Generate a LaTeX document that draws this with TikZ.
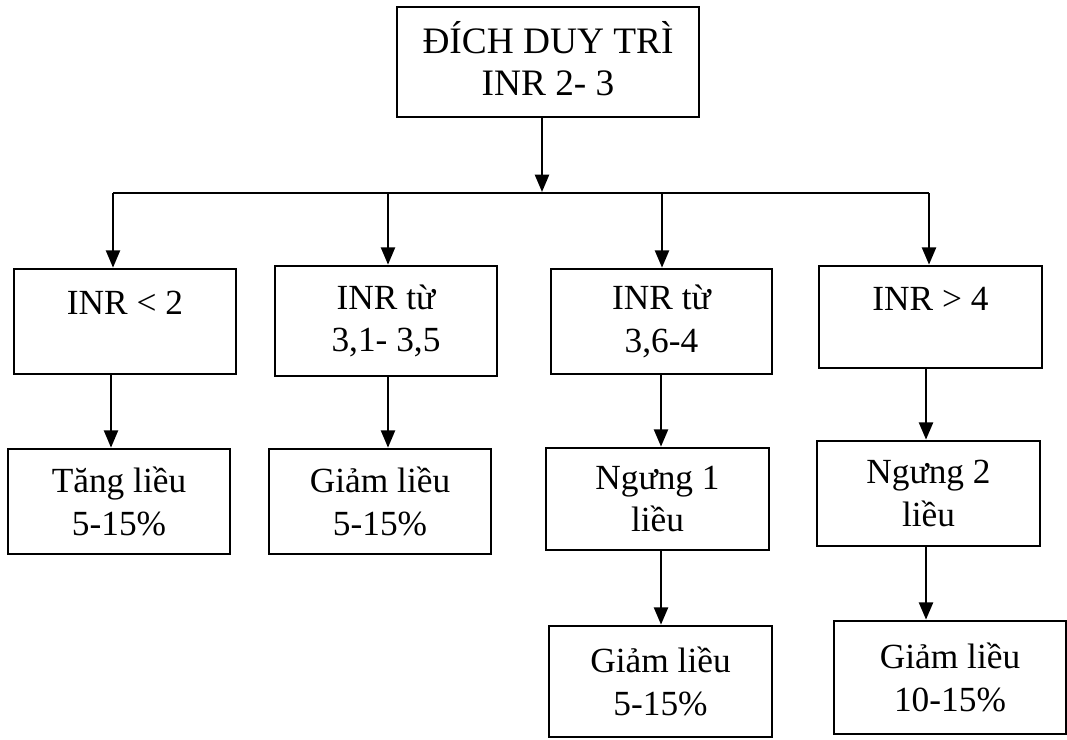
\documentclass[tikz,border=0pt]{standalone}
\usepackage{fontspec}
\setmainfont{Liberation Serif}
\usetikzlibrary{arrows.meta}
\begin{document}
\begin{tikzpicture}[x=0.75pt,y=-0.75pt,
  box/.style={draw, line width=2pt, align=center, inner sep=0pt,
    font=\fontsize{26.5}{32}\selectfont},
  arr/.style={line width=1.8pt, -{Triangle[length=13pt,width=10.5pt]}},
  hline/.style={line width=1pt}]
\useasboundingbox (0,0) rectangle (1067,739);
% top
\node[box, font=\fontsize{28}{31.5}\selectfont, text height=52pt, text depth=2.5pt, minimum width=226.5pt, minimum height=82.5pt] (top) at (548,62) {ĐÍCH DUY TRÌ\\INR 2- 3};
% row 1
\node[box, text height=10pt, text depth=20pt, minimum width=166.5pt, minimum height=78.75pt] (b1) at (125,321.5) {INR < 2};
\node[box, minimum width=166.5pt, minimum height=82.5pt] (b2) at (386,321) {INR từ\\3,1- 3,5};
\node[box, minimum width=165.75pt, minimum height=78.75pt] (b3) at (661.5,321.5) {INR từ\\3,6-4};
\node[box, text height=10pt, text depth=20pt, minimum width=167.25pt, minimum height=76.5pt] (b4) at (930.5,317) {INR > 4};
% row 2
\node[box, minimum width=166.5pt, minimum height=78.75pt] (b5) at (119,501.5) {Tăng liều\\5-15\%};
\node[box, minimum width=166.5pt, minimum height=78.75pt] (b6) at (380,501.5) {Giảm liều\\5-15\%};
\node[box, minimum width=167.25pt, minimum height=76.5pt] (b7) at (657.5,499) {Ngưng 1\\liều};
\node[box, minimum width=167.25pt, minimum height=78.75pt] (b8) at (928.5,493.5) {Ngưng 2\\liều};
% row 3
\node[box, minimum width=167.25pt, minimum height=83.25pt] (b9) at (660.5,681.5) {Giảm liều\\5-15\%};
\node[box, minimum width=174pt, minimum height=84.75pt] (b10) at (950,677.5) {Giảm liều\\10-15\%};
% connectors
\coordinate (split) at (542,192);
\coordinate (d1) at (113,193);
\coordinate (d2) at (388,193);
\coordinate (d3) at (662,193);
\coordinate (d4) at (929,193);
\coordinate (c1) at (111,0);
\coordinate (c2) at (388,0);
\coordinate (c3) at (661,0);
\coordinate (c4) at (926,0);
\draw[arr] (top.south -| split) -- (split);
\draw[hline] (d1) -- (d4);
\draw[arr] (d1) -- (d1 |- b1.north);
\draw[arr] (d2) -- (d2 |- b2.north);
\draw[arr] (d3) -- (d3 |- b3.north);
\draw[arr] (d4) -- (d4 |- b4.north);
\draw[arr] (c1 |- b1.south) -- (c1 |- b5.north);
\draw[arr] (c2 |- b2.south) -- (c2 |- b6.north);
\draw[arr] (c3 |- b3.south) -- (c3 |- b7.north);
\draw[arr] (c4 |- b4.south) -- (c4 |- b8.north);
\draw[arr] (c3 |- b7.south) -- (c3 |- b9.north);
\draw[arr] (c4 |- b8.south) -- (c4 |- b10.north);
\end{tikzpicture}
\end{document}
